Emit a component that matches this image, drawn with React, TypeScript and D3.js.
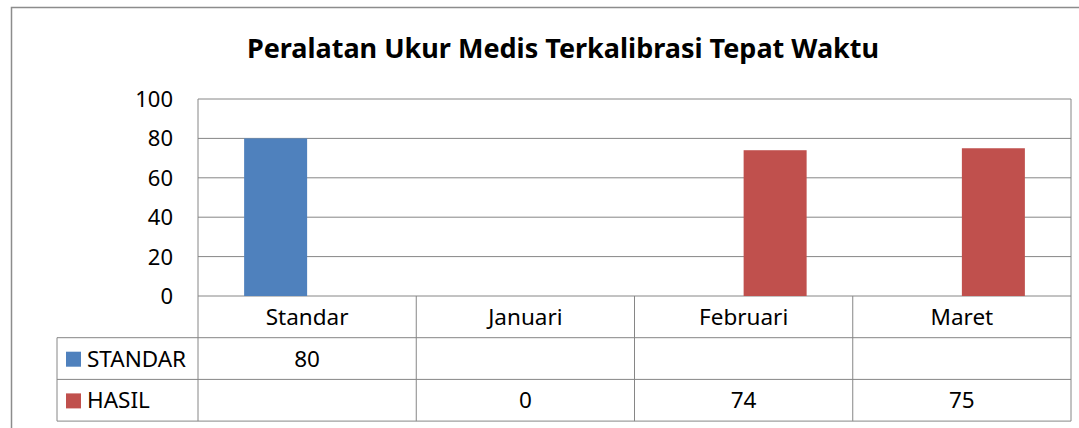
import React from "react";
import * as d3 from "d3";

const categories = ["Standar", "Januari", "Februari", "Maret"];
const seriesNames = ["STANDAR", "HASIL"];
const standarValues: (number | null)[] = [80, null, null, null];
const hasilValues: (number | null)[] = [null, 0, 74, 75];
const yTicks = [0, 20, 40, 60, 80, 100];

const COLORS = ["#4F81BD", "#C0504D"];
const GRID = "#868686";
const FONT = "'Noto Sans', 'Open Sans', sans-serif";

export default function App() {
    const W = 1079;
    const H = 428;
    const plot = { left: 198, right: 1071, top: 99, bottom: 296 };
    const rowH = 41.7;
    const labelLeft = 57;
    const series = [standarValues, hasilValues];
    const FS = 22.5;

    const x = d3.scaleBand<string>().domain(categories).range([plot.left, plot.right]);
    const y = d3.scaleLinear().domain([0, 100]).range([plot.bottom, plot.top]);
    const barW = 63;
    const barX = (cat: string, si: number) => (x(cat) ?? 0) + x.bandwidth() / 2 + (si === 0 ? -barW : 0);

    const tableBottom = plot.bottom + rowH * 3;

    return (
        <div style={{ position: "fixed", left: 0, top: 0 }}>
            <svg width={W} height={H} style={{ display: "block" }} fontFamily={FONT}>
                <rect x={0} y={0} width={W} height={H} fill="#fff" />
                <rect x={11.5} y={7.5} width={1120} height={440} fill="none" stroke="#8c8c8c" strokeWidth={1.5} />
                <text x={563} y={58} textAnchor="middle" fontWeight="bold" fontSize={27} fill="#000">
                    Peralatan Ukur Medis Terkalibrasi Tepat Waktu
                </text>

                {/* gridlines */}
                {yTicks.map((t) => (
                    <g key={t}>
                        <line x1={plot.left} x2={plot.right} y1={y(t)} y2={y(t)} stroke={GRID} strokeWidth={1} />
                        <text x={173} y={y(t)} dy="0.36em" textAnchor="end" fontSize={22} fill="#000">{t}</text>
                    </g>
                ))}
                <line x1={plot.left} x2={plot.left} y1={plot.top} y2={tableBottom} stroke={GRID} />
                <line x1={plot.right} x2={plot.right} y1={plot.top} y2={tableBottom} stroke={GRID} />

                {/* bars */}
                {series.map((vals, si) =>
                    vals.map((v, ci) =>
                        v == null || v === 0 ? null : (
                            <rect key={`${si}-${ci}`} x={barX(categories[ci], si)} y={y(v)} width={barW}
                                  height={y(0) - y(v)} fill={COLORS[si]} />
                        )
                    )
                )}

                {/* data table */}
                {[1, 2, 3].map((r) => (
                    <line key={r} x1={labelLeft} x2={plot.right} y1={plot.bottom + rowH * r} y2={plot.bottom + rowH * r}
                          stroke={GRID} />
                ))}
                <line x1={labelLeft} x2={labelLeft} y1={plot.bottom + rowH} y2={tableBottom} stroke={GRID} />
                {categories.slice(1).map((c) => (
                    <line key={c} x1={x(c)} x2={x(c)} y1={plot.bottom} y2={tableBottom} stroke={GRID} />
                ))}
                {categories.map((c) => (
                    <text key={c} x={(x(c) ?? 0) + x.bandwidth() / 2} y={plot.bottom + rowH / 2} dy="0.36em"
                          textAnchor="middle" fontSize={FS} fill="#000">{c}</text>
                ))}
                {series.map((vals, si) => (
                    <g key={si}>
                        <rect x={66} y={plot.bottom + rowH * (si + 1) + 14} width={15} height={15} fill={COLORS[si]} />
                        <text x={87} y={plot.bottom + rowH * (si + 1.5)} dy="0.36em" fontSize={FS} fill="#000">
                            {seriesNames[si]}
                        </text>
                        {vals.map((v, ci) =>
                            v == null ? null : (
                                <text key={ci} x={(x(categories[ci]) ?? 0) + x.bandwidth() / 2}
                                      y={plot.bottom + rowH * (si + 1.5)} dy="0.36em" textAnchor="middle"
                                      fontSize={FS} fill="#000">{v}</text>
                            )
                        )}
                    </g>
                ))}
            </svg>
        </div>
    );
}
